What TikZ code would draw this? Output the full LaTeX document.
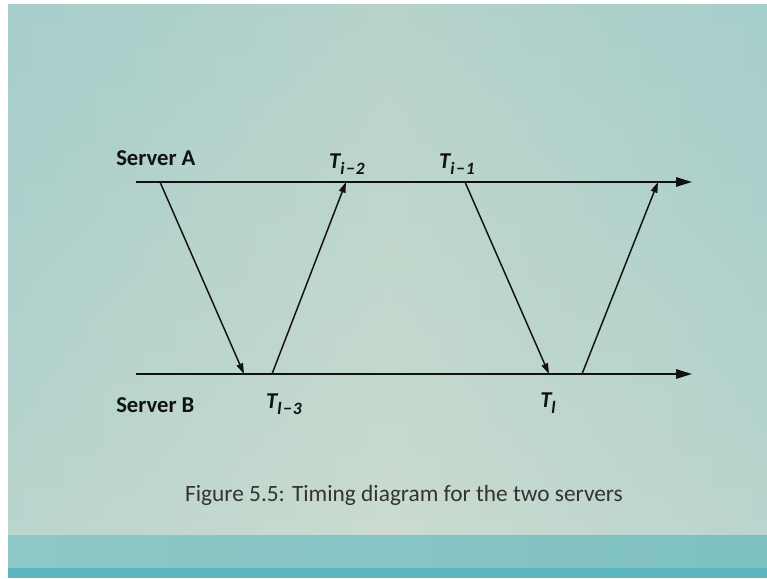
\documentclass[tikz,border=0pt]{standalone}
\usepackage{fontspec}
\setmainfont{Carlito}
\usepackage{xcolor}
\usetikzlibrary{positioning,arrows.meta}
\definecolor{slideedge}{HTML}{A6CECB}
\definecolor{slidemid}{HTML}{C6D8CC}
\definecolor{slidelow}{HTML}{D2DED2}
\definecolor{barlight}{HTML}{8FC8C8}
\definecolor{barmid}{HTML}{7EC0C2}
\definecolor{bardark}{HTML}{5CB6BF}
\definecolor{ink}{HTML}{111111}
\definecolor{capink}{HTML}{333333}
\tikzset{
  axis/.style    = {draw=ink, line width=1.3pt, -{Triangle[length=12pt,width=7pt]}},
  msg/.style     = {draw=ink, line width=1.1pt, -{Triangle[length=8pt,width=5pt]}},
  server/.style  = {font=\fontsize{17}{20}\selectfont\bfseries\color{ink}, anchor=west, inner sep=0pt},
  stamp/.style   = {font=\fontsize{17}{20}\selectfont\bfseries\itshape\color{ink}, inner sep=0pt},
  caption/.style = {font=\fontsize{17.5}{21}\selectfont\color{capink}, inner sep=0pt},
}
\newcommand{\tstamp}[1]{T\raisebox{-0.5ex}{\fontsize{13}{14}\selectfont #1}}

\begin{document}
\begin{tikzpicture}[x=0.75pt,y=0.75pt]
\useasboundingbox (0,0) rectangle (767,578);

% ---- slide background ---------------------------------------------------
\fill[white] (0,0) rectangle (767,578);
\shade[left color=slideedge, right color=slideedge, middle color=slidemid] (8,42) rectangle (767,573);
\shade[top color=slideedge, bottom color=slidelow, fill opacity=0.45] (8,42) rectangle (767,573);
\shade[left color=barlight, right color=barmid] (8,10) rectangle (767,42);
\fill[bardark] (8,0) rectangle (767,10);

% ---- time lines ----------------------------------------------------------
\coordinate (sa) at (136,396);
\coordinate (ea) at (692,396);
\coordinate (sb) at (136,204);
\coordinate (eb) at (692,204);
\draw[axis] (sa) -- (ea);
\draw[axis] (sb) -- (eb);

\node[server] (srva) at (116,420) {Server A};
\node[server] (srvb) at (116,173) {Server B};

% ---- messages between the servers -----------------------------------------
\coordinate (a1) at (160,396);
\coordinate (b1) at (244,204);
\coordinate (b2) at (272,204);
\coordinate (a2) at (346,396);
\coordinate (a3) at (465,396);
\coordinate (b3) at (549,204);
\coordinate (b4) at (582,204);
\coordinate (a4) at (658,396);
\draw[msg] (a1) -- (b1);
\draw[msg] (b2) -- (a2);
\draw[msg] (a3) -- (b3);
\draw[msg] (b4) -- (a4);

% ---- time stamps ---------------------------------------------------------
\node[stamp] (ti2) at (347,414) {\tstamp{i\kern1pt−\kern1pt2}};
\node[stamp] (ti1) at (457,414) {\tstamp{i\kern1pt−\kern1pt1}};
\node[stamp] (tl3) at (284,174) {\tstamp{l\kern1pt−\kern1pt3}};
\node[stamp] (tl)  at (548,175) {\tstamp{l}};

% ---- caption -------------------------------------------------------------
\node[caption] (cap) at (404,83) {Figure 5.5: Timing diagram for the two servers};

\end{tikzpicture}
\end{document}
